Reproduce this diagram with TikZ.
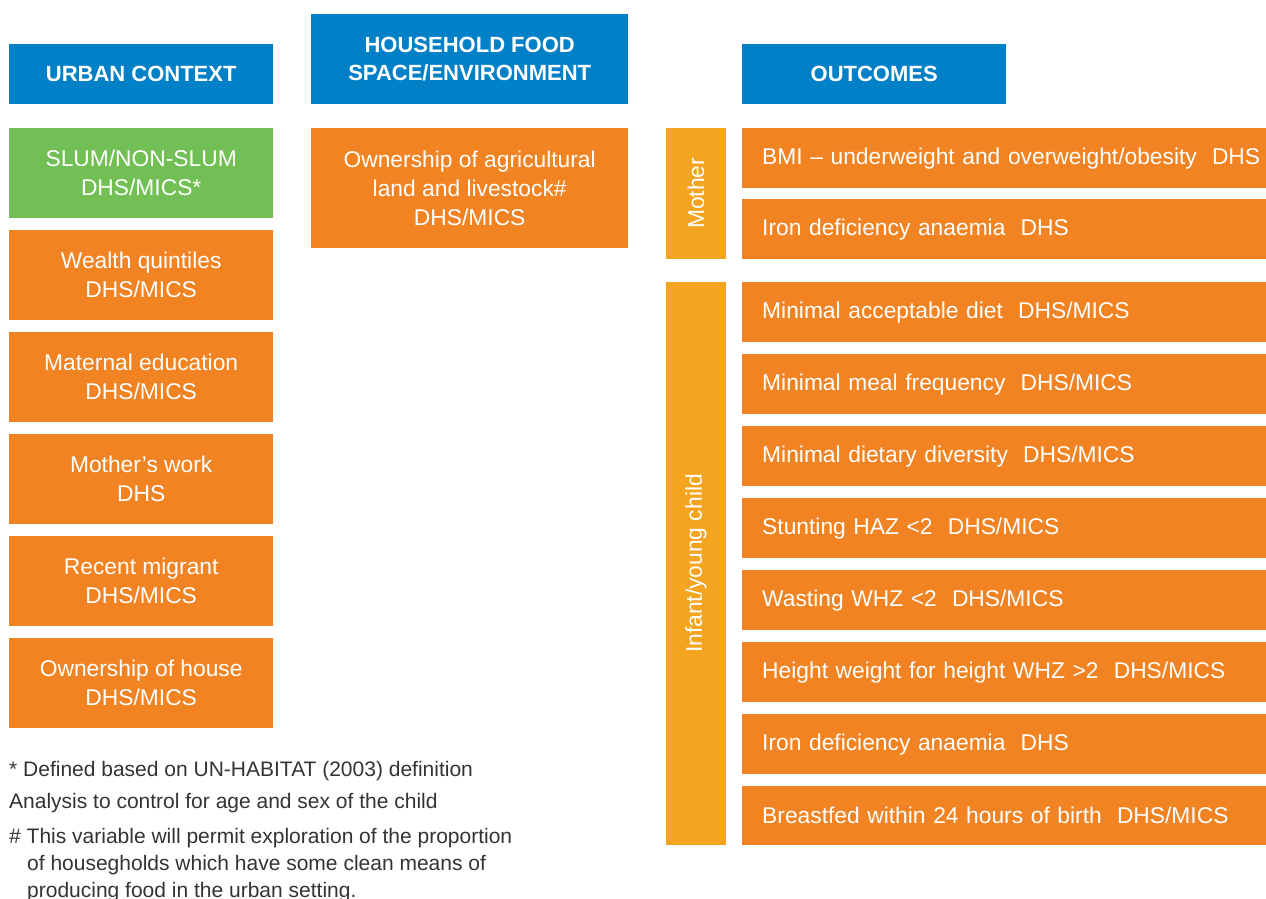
\documentclass[tikz,border=0pt]{standalone}
\usepackage{fontspec}
\setmainfont{Liberation Sans}
\usetikzlibrary{positioning}
\definecolor{hdrblue}{HTML}{0080C6}
\definecolor{boxorange}{HTML}{F28322}
\definecolor{barorange}{HTML}{F5A41F}
\definecolor{slumgreen}{HTML}{72BF55}
\definecolor{notegray}{HTML}{333333}

\begin{document}
\begin{tikzpicture}[x=1pt,y=-1pt,
  hdr/.style={fill=hdrblue,text=white,font=\fontsize{22}{28.5}\selectfont\bfseries,align=center,anchor=north west,inner sep=0pt},
  ctxbox/.style={fill=boxorange,text=white,font=\fontsize{22.8}{29}\selectfont,align=center,anchor=north west,inner sep=0pt,minimum width=264pt,minimum height=90pt},
  outbox/.style={fill=boxorange,text=white,font=\fontsize{22.8}{29}\selectfont,align=left,anchor=north west,inner xsep=20pt,inner ysep=0pt,text width=484pt,minimum height=60pt},
  sidebar/.style={fill=barorange,text=white,font=\fontsize{22.8}{29}\selectfont,rotate=90,inner sep=0pt,minimum height=60pt},
  note/.style={text=notegray,font=\fontsize{21}{27}\selectfont,anchor=base west,inner sep=0pt}]
\useasboundingbox (0,0) rectangle (1266,899);

\node[hdr,minimum width=264pt,minimum height=60pt] (urban) at (9,44) {URBAN CONTEXT};
\node[hdr,minimum width=317pt,minimum height=90pt] (household) at (311,14) {HOUSEHOLD FOOD\\SPACE/ENVIRONMENT};
\node[hdr,minimum width=264pt,minimum height=60pt] (outcomes) at (742,44) {OUTCOMES};

\node[ctxbox,fill=slumgreen] (slum) at (9,128) {SLUM/NON-SLUM\\DHS/MICS*};
\node[ctxbox] (wealth) at (9,230) {Wealth quintiles\\DHS/MICS};
\node[ctxbox] (education) at (9,332) {Maternal education\\DHS/MICS};
\node[ctxbox] (work) at (9,434) {Mother’s work\\DHS};
\node[ctxbox] (migrant) at (9,536) {Recent migrant\\DHS/MICS};
\node[ctxbox] (house) at (9,638) {Ownership of house\\DHS/MICS};

\node[ctxbox,minimum width=317pt,minimum height=120pt] (land) at (311,128) {Ownership of agricultural\\land and livestock\#\\DHS/MICS};

\node[sidebar,minimum width=131pt] (mother) at (696,193.5) {Mother};
\node[sidebar,minimum width=563pt] (child) at (696,563.5) {Infant/young child};

\node[outbox] (bmi) at (742,128) {\makebox[484pt][l]{BMI -- underweight and overweight/obesity\ \ DHS}};
\node[outbox] (anaemiam) at (742,199) {Iron deficiency anaemia\ \ DHS};

\node[outbox] (diet) at (742,282) {Minimal acceptable diet\ \ DHS/MICS};
\node[outbox] (meal) at (742,354) {Minimal meal frequency\ \ DHS/MICS};
\node[outbox] (diversity) at (742,426) {Minimal dietary diversity\ \ DHS/MICS};
\node[outbox] (stunting) at (742,498) {Stunting HAZ <2\ \ DHS/MICS};
\node[outbox] (wasting) at (742,570) {Wasting WHZ <2\ \ DHS/MICS};
\node[outbox] (heightw) at (742,642) {Height weight for height WHZ >2\ \ DHS/MICS};
\node[outbox] (anaemiac) at (742,714) {Iron deficiency anaemia\ \ DHS};
\node[outbox,minimum height=59pt] (breastfed) at (742,786) {Breastfed within 24 hours of birth\ \ DHS/MICS};

\node[note] (note1) at (9,776) {* Defined based on UN-HABITAT (2003) definition};
\node[note] (note2) at (9,808) {Analysis to control for age and sex of the child};
\node[note] (note3) at (9,843) {\# This variable will permit exploration of the proportion};
\node[note] (note3b) at (27,870) {of housegholds which have some clean means of};
\node[note] (note3c) at (27,897) {producing food in the urban setting.};
\end{tikzpicture}
\end{document}
